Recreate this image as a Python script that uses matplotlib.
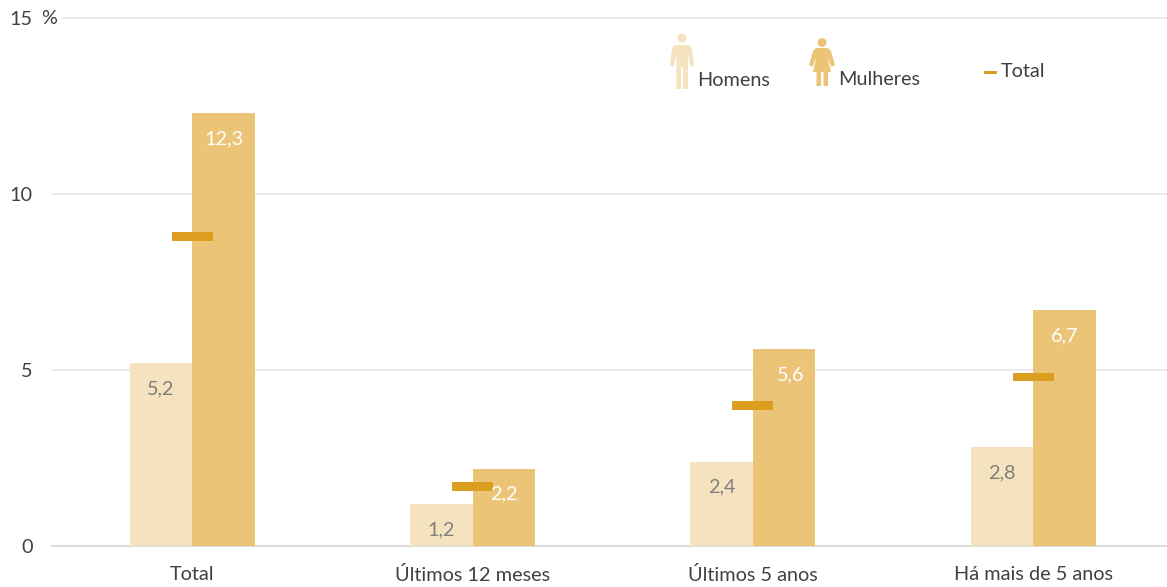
import numpy as np
from matplotlib import pyplot as plt
from matplotlib.patches import Circle, Polygon, Rectangle

categories = ["Total", "Últimos 12 meses", "Últimos 5 anos", "Há mais de 5 anos"]
homens = [5.2, 1.2, 2.4, 2.8]
mulheres = [12.3, 2.2, 5.6, 6.7]
total = [8.8, 1.7, 4.0, 4.8]
yticks = [0, 5, 10, 15]

c_h = "#f5e3bf"
c_m = "#ecc477"
c_t = "#dc9e1f"
c_txt = "#404040"
c_lab = "#7f7f7f"

plt.rcParams["font.family"] = ["Lato", "DejaVu Sans"]
fs = 14.3

W, H = 1167, 587
fig = plt.figure(figsize=(W / 100, H / 100), dpi=100)
ax = fig.add_axes([52 / W, 1 - 546 / H, 1115 / W, 528 / H])

x = np.arange(len(categories))
bw = 0.223
ax.bar(x - bw / 2, homens, bw, color=c_h, zorder=3)
ax.bar(x + bw / 2, mulheres, bw, color=c_m, zorder=3)

# total marker is a short thick dash, centred between the bars
ax.bar(x, [0.25] * 4, 0.146, bottom=np.array(total) - 0.125, color=c_t, zorder=4)

for xi, v in zip(x, homens):
    ax.annotate(f"{v:.1f}".replace(".", ","), (xi - bw / 2, v), xytext=(0, -18.5),
                textcoords="offset points", ha="center", va="center",
                color=c_lab, fontsize=fs, zorder=5)
# the 5,6 label sits a bit right of its bar centre in the original
dx_m = [0, 0, 5, 0]
for xi, v, d in zip(x, mulheres, dx_m):
    ax.annotate(f"{v:.1f}".replace(".", ","), (xi + bw / 2, v), xytext=(d, -18.5),
                textcoords="offset points", ha="center", va="center",
                color="white", fontsize=fs, zorder=5)

ax.set_xlim(-0.5, 3.477)
ax.set_ylim(0, 15)
ax.set_xticks(x, categories, fontsize=fs, color=c_txt)
ax.set_yticks(yticks, [str(t) for t in yticks], fontsize=fs, color=c_txt)
ax.tick_params(length=0)
ax.tick_params(axis="x", pad=14.5)
ax.tick_params(axis="y", pad=14)
for s in ["top", "left", "right"]:
    ax.spines[s].set_visible(False)
ax.spines["bottom"].set_color("#d4d4d4")
ax.spines["bottom"].set_linewidth(1.2)

for t in yticks[1:]:
    ax.axhline(t, xmin=(11 / 1115 if t == 15 else 0), color="#e8e8e8", lw=1.3,
               zorder=1, clip_on=False)

# overlay in pixel coordinates for the legend pictograms
ov = fig.add_axes([0, 0, 1, 1], facecolor="none")
ov.set_xlim(0, W)
ov.set_ylim(H, 0)
ov.axis("off")

ov.text(41, 18, "%", fontsize=fs, color=c_txt, va="center", ha="left")

# man
ov.add_patch(Circle((682, 38), 4.5, color=c_h, lw=0))
ov.add_patch(Polygon([(675, 45), (689, 45), (692, 48), (694, 65), (690.5, 67),
                      (688, 54), (688, 89), (683, 89), (683, 67), (681, 67),
                      (681, 89), (676.5, 89), (676.5, 54), (673.5, 67),
                      (670, 65), (672, 48)], color=c_h, lw=0))
# woman
ov.add_patch(Circle((822, 42.5), 4.5, color=c_m, lw=0))
ov.add_patch(Polygon([(816, 48), (828, 48), (831, 51), (835, 65), (831.5, 67),
                      (827.5, 57), (831, 72), (828, 72), (828, 86), (823.5, 86),
                      (823.5, 72), (821, 72), (821, 86), (816.5, 86), (816.5, 72),
                      (813, 72), (816.5, 57), (812.5, 67), (809, 65), (813, 51)],
                     color=c_m, lw=0))

ov.text(697, 80.5, "Homens", fontsize=fs, color=c_txt, va="center", ha="left")
ov.text(838, 79.5, "Mulheres", fontsize=fs, color=c_txt, va="center", ha="left")
ov.add_patch(Rectangle((984, 70.5), 13, 3, color=c_t, lw=0))
ov.text(1001, 71.5, "Total", fontsize=fs, color=c_txt, va="center", ha="left")

fig.savefig("out.png", dpi=100)
